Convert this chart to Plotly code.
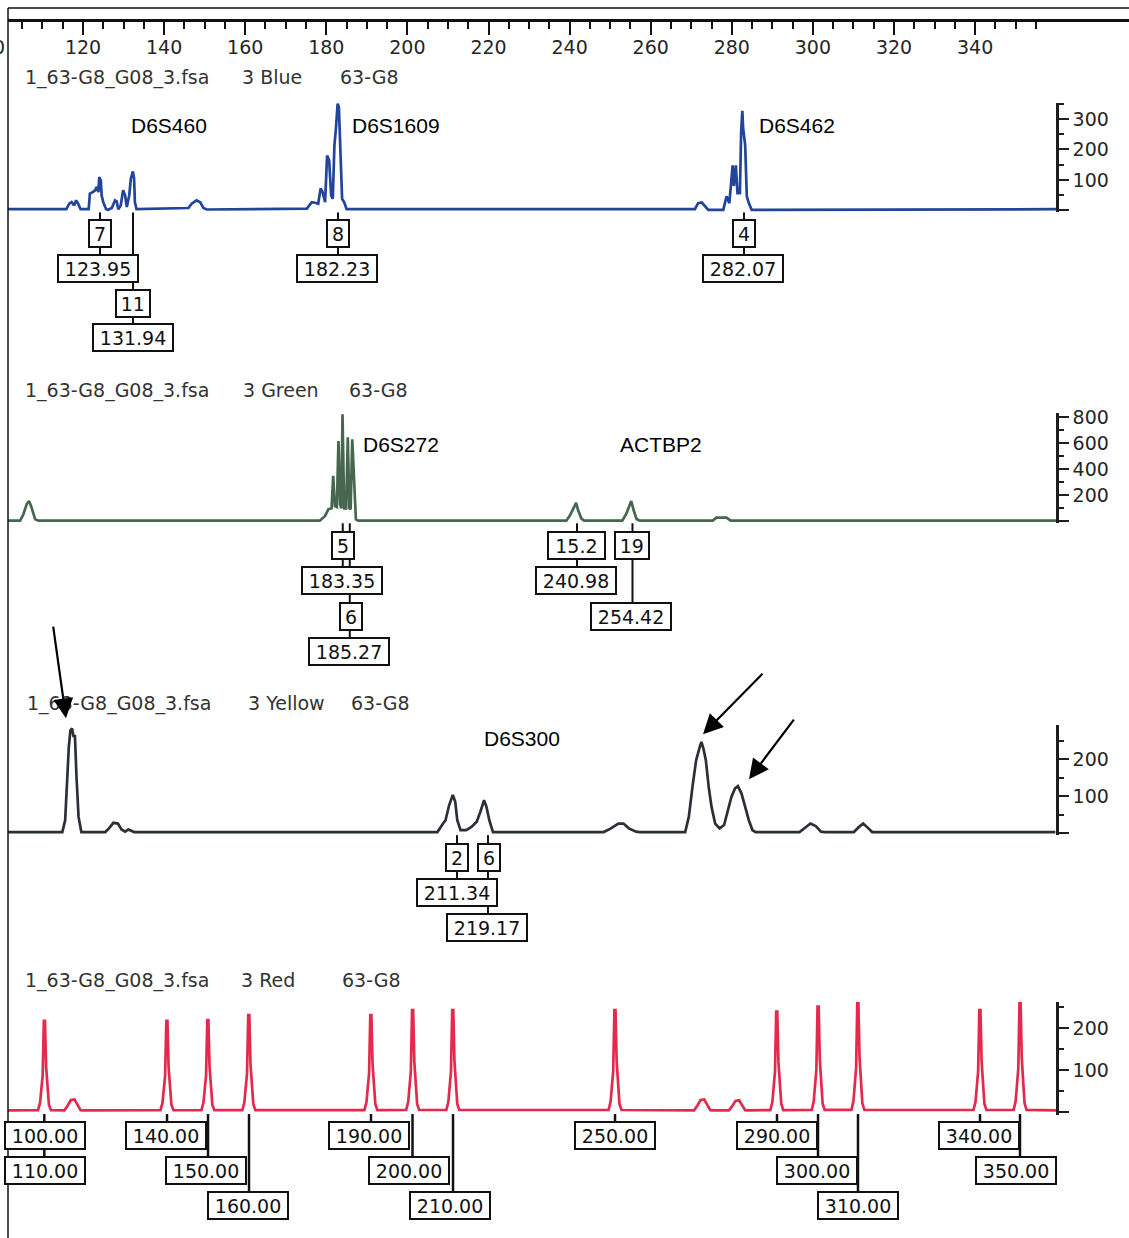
import plotly.graph_objects as go

# ------------------------------------------------------------------ data
# Blue channel trace (size in bp, signal in RFU)
blue_x = [101.5, 115.9, 116.6, 117.2, 117.8, 118.3, 118.8, 119.4,
          121.4, 121.7, 122.4, 123.0, 123.4, 123.8, 124.0, 124.4, 124.6, 125.0, 125.7, 126.2,
          127.1, 127.9, 128.3, 128.7, 129.3, 129.9, 130.4, 130.8, 131.4, 131.8, 132.3, 132.6, 132.8, 133.2,
          146.0, 146.8, 148.0, 148.9, 149.7, 150.5,
          175.2, 176.4, 177.2, 178.0, 178.6, 179.1, 179.7, 180.2, 180.7, 181.2, 181.6, 182.0,
          182.4, 182.8, 183.1, 183.5, 183.9, 184.4, 185.0,
          270.9, 271.7, 272.6, 273.4, 274.2,
          277.9, 278.7, 279.4, 280.2, 280.5, 281.0, 281.4, 282.0, 282.3, 282.6, 282.8, 283.3,
          283.7, 284.2, 284.9, 360.3]
blue_y = [4, 4, 22, 27, 16, 33, 22, 4,
          4, 55, 60, 66, 77, 60, 109, 98, 49, 27, 4, 2,
          8, 33, 30, 4, 16, 66, 49, 11, 49, 104, 128, 104, 27, 4,
          8, 22, 33, 27, 8, 3,
          6, 27, 25, 22, 72, 60, 27, 180, 164, 49, 38, 213,
          273, 350, 339, 164, 38, 27, 4,
          4, 24, 26, 13, 2,
          2, 46, 24, 148, 80, 148, 57, 57, 255, 327, 268, 214,
          46, 24, 2, 4]

# Green channel trace
green_x = [101.5, 104.5, 105.3, 106.1, 106.7, 107.3, 108.2, 109.0,
           178.4, 179.7, 180.5, 181.3, 181.7, 182.1, 182.6, 183.0, 183.4, 183.7, 184.0, 184.4,
           184.9, 185.3, 185.7, 186.0, 186.4, 186.8, 187.3, 187.9,
           239.2, 240.1, 241.1, 241.6, 242.1, 242.9, 243.6,
           253.0, 254.0, 254.7, 255.2, 255.8, 256.5, 257.3,
           275.3, 276.2, 278.7, 279.7, 360.0]
green_y = [5, 5, 54, 131, 156, 108, 15, 5,
           5, 41, 92, 100, 349, 118, 110, 618, 131, 100, 823, 100,
           100, 646, 100, 92, 631, 323, 15, 5,
           5, 46, 110, 141, 85, 21, 5,
           5, 59, 115, 156, 85, 18, 5,
           5, 28, 28, 5, 5]

# Yellow channel trace
yellow_x = [101.5, 114.9, 115.6, 116.1, 116.5, 116.9, 117.3, 117.7, 118.0, 118.4, 118.9, 119.6, 120.2,
            125.5, 126.4, 127.5, 128.6, 129.5, 130.4, 131.2, 132.6, 133.4,
            207.4, 208.8, 209.4, 210.3, 211.2, 211.8, 212.3, 213.1, 214.5, 215.8, 217.1, 218.0,
            218.9, 219.5, 220.2, 221.1, 222.0,
            248.4, 250.2, 252.0, 253.3, 254.6, 256.4, 257.3,
            268.5, 269.4, 270.3, 271.2, 272.1, 272.5, 273.0, 273.6, 274.3, 275.0, 275.9, 277.0,
            278.1, 279.0, 279.9, 280.8, 281.5, 282.4, 283.3, 284.2, 285.1, 285.9,
            296.7, 298.0, 299.4, 300.7, 302.0, 303.0,
            310.1, 311.4, 312.4, 313.7, 314.6, 359.8]
yellow_y = [3, 3, 35, 161, 233, 278, 283, 260, 265, 152, 44, 3, 3,
            3, 13, 28, 26, 10, 4, 10, 3, 3,
            3, 26, 35, 76, 103, 85, 35, 8, 8, 17, 31, 58,
            89, 71, 35, 3, 3,
            3, 13, 26, 26, 13, 4, 3,
            3, 44, 125, 197, 233, 247, 229, 197, 125, 71, 26, 13,
            22, 58, 98, 121, 127, 107, 71, 35, 8, 3,
            3, 13, 26, 19, 4, 3,
            3, 17, 26, 13, 3, 3]

# Red channel (size standard) peaks: apex position and height, plus small bumps
red_peak_x = [110.5, 140.7, 150.8, 160.9, 191.0, 201.3, 211.2, 251.2, 291.1, 301.3, 311.1, 341.2, 351.1]
red_peak_h = [217, 217, 219, 231, 231, 243, 243, 243, 239, 251, 260, 243, 259]
red_bump_x = [117.6, 272.9, 281.5]
red_bump_h = [30, 30, 28]
red_range_x = [101.5, 360.2]
red_base = 4
# peak outline (offset in bp, fraction of apex height)
red_peak_dx = [-1.6, -1.1, -0.75, -0.45, -0.15, 0.12, 0.4, 0.7, 1.1, 1.6]
red_peak_fr = [0.02, 0.1, 0.3, 0.4, 1.0, 1.0, 0.5, 0.3, 0.08, 0.02]
red_bump_dx = [-2.2, -1.4, -0.6, 0.3, 1.0, 1.8, 2.4]
red_bump_fr = [0.05, 0.5, 0.95, 1.0, 0.6, 0.15, 0.05]

# peak call labels: (text, size position in bp, row)
blue_labels = [("7", 124.19, 0), ("123.95", 123.70, 1), ("11", 132.45, 2), ("131.94", 132.33, 3),
               ("8", 182.89, 0), ("182.23", 182.52, 1), ("4", 283.01, 0), ("282.07", 282.64, 1)]
green_labels = [("5", 184.24, 0), ("183.35", 183.87, 1), ("6", 186.21, 2), ("185.27", 185.72, 3),
                ("15.2", 241.82, 0), ("240.98", 241.58, 1), ("19", 255.51, 0), ("254.42", 255.14, 2)]
yellow_labels = [("2", 212.35, 0), ("6", 220.12, 0), ("211.34", 212.23, 1), ("219.17", 219.63, 2)]
red_labels = [("100.00", 110.63, 0), ("110.00", 110.63, 1), ("140.00", 140.59, 0), ("150.00", 150.33, 1),
              ("160.00", 160.69, 2), ("190.00", 190.65, 0), ("200.00", 200.39, 1), ("210.00", 210.50, 2),
              ("250.00", 251.19, 0), ("290.00", 291.14, 0), ("300.00", 301.00, 1), ("310.00", 311.12, 2),
              ("340.00", 340.96, 0), ("350.00", 350.09, 1)]
# connector lines (bp position, deepest row reached)
blue_links = [(124.19, 1), (132.33, 3), (182.89, 1), (283.01, 1)]
green_links = [(184.06, 1), (185.79, 3), (241.82, 1), (255.51, 2)]
yellow_links = [(212.23, 1), (219.87, 2)]
red_links = [(110.46, 1), (140.72, 0), (150.83, 1), (160.94, 2), (191.02, 0), (201.26, 1), (211.25, 2),
             (251.20, 0), (291.15, 0), (301.26, 1), (311.12, 2), (341.21, 0), (351.07, 1)]

# marker names (text, bp position)
blue_markers = [("D6S460", 141.2), ("D6S1609", 197.2), ("D6S462", 296.1)]
green_markers = [("D6S272", 198.4), ("ACTBP2", 262.5)]
yellow_markers = [("D6S300", 228.3)]

top_ticks = list(range(120, 341, 20))
top_minor = [v for v in range(105, 356, 5) if v % 20 != 0]

# ------------------------------------------------------------------ build red trace
pts = [(red_range_x[0], red_base), (red_range_x[1], red_base)]
for x0, h in zip(red_peak_x, red_peak_h):
    for dx, f in zip(red_peak_dx, red_peak_fr):
        pts.append((x0 + dx, max(red_base, f * h)))
for x0, h in zip(red_bump_x, red_bump_h):
    for dx, f in zip(red_bump_dx, red_bump_fr):
        pts.append((x0 + dx, max(red_base, f * h)))
pts.sort()
red_x = [p[0] for p in pts]
red_y = [p[1] for p in pts]

# ------------------------------------------------------------------ layout geometry (pixels)
W, H = 1129, 1238
TOP_OFF = 6.5
H_EFF = 1231.5
X_LEFT_PX = 8.0
PX_PER_BP = 4.055
X_MIN = 120 + (X_LEFT_PX - 83.0) / PX_PER_BP
X_MAX = 120 + (W - 83.0) / PX_PER_BP
YAX_PX = 1057


def py(px):
    return 1 - (px - TOP_OFF) / H_EFF


panels = [
    dict(name="y", x=blue_x, y=blue_y, color="#22449b", base=210, k=0.305, rng=[-6, 352],
         major=[0, 100, 200, 300], minor=[50, 150, 250, 350], rows=[233, 268.5, 303, 337.5],
         labels=blue_labels, links=blue_links, markers=blue_markers, marker_y=125,
         header_y=77, header=[("1_63-G8_G08_3.fsa", 23), ("3 Blue", 240), ("63-G8", 338)], lw=2),
    dict(name="y2", x=green_x, y=green_y, color="#46664f", base=521, k=0.13, rng=[-15, 830],
         major=[0, 200, 400, 600, 800], minor=[100, 300, 500, 700], rows=[545, 580.5, 616, 651],
         labels=green_labels, links=green_links, markers=green_markers, marker_y=444,
         header_y=390, header=[("1_63-G8_G08_3.fsa", 23), ("3 Green", 241), ("63-G8", 347)], lw=2),
    dict(name="y3", x=yellow_x, y=yellow_y, color="#2b3038", base=833, k=0.37, rng=[-6, 292],
         major=[0, 100, 200], minor=[50, 150, 250], rows=[857.5, 892.5, 927.5],
         labels=yellow_labels, links=yellow_links, markers=yellow_markers, marker_y=738,
         header_y=703, header=[("1_63-G8_G08_3.fsa", 25), ("3 Yellow", 246), ("63-G8", 349)], lw=2),
    dict(name="y4", x=red_x, y=red_y, color="#e4294d", base=1112, k=0.42, rng=[-6, 262],
         major=[0, 100, 200], minor=[50, 150, 250], rows=[1135.5, 1170.5, 1205.5],
         labels=red_labels, links=red_links, markers=[], marker_y=0,
         header_y=980, header=[("1_63-G8_G08_3.fsa", 23), ("3 Red", 239), ("63-G8", 340)], lw=2.5),
]

fig = go.Figure()
annotations = []
shapes = []

TXT = "DejaVu Sans"
axis_font = dict(family=TXT, size=19, color="#262626")
layout_axes = {}

for p in panels:
    fig.add_trace(go.Scatter(x=p["x"], y=p["y"], mode="lines", xaxis="x", yaxis=p["name"],
                             line=dict(color=p["color"], width=2.7), hoverinfo="skip"))
    bottom = p["base"] - p["rng"][0] * p["k"]
    top = p["base"] - p["rng"][1] * p["k"]
    key = "yaxis" if p["name"] == "y" else "yaxis" + p["name"][1:]
    layout_axes[key] = dict(
        domain=[py(bottom), py(top)], range=p["rng"], anchor="free", position=YAX_PX / W,
        side="right", showline=True, linecolor="#1e1e1e", linewidth=2.5, showgrid=False,
        zeroline=False, ticks="outside", ticklen=10, tickwidth=2, tickcolor="#1e1e1e",
        tickmode="array", tickvals=p["major"], ticktext=["" if v == 0 else str(v) for v in p["major"]],
        tickfont=axis_font,
        minor=dict(tickmode="array", tickvals=p["minor"], ticks="outside", ticklen=5,
                   tickwidth=2, tickcolor="#1e1e1e"),
        fixedrange=True,
    )
    # header
    for txt, xpx in p["header"]:
        annotations.append(dict(text=txt, xref="paper", yref="paper", x=xpx / W, y=py(p["header_y"]),
                                xanchor="left", yanchor="middle", showarrow=False,
                                font=dict(family=TXT, size=19, color="#333333")))
    # marker names
    for txt, xb in p["markers"]:
        annotations.append(dict(text=txt, xref="x", yref="paper", x=xb, y=py(p["marker_y"]),
                                xanchor="center", yanchor="middle", showarrow=False,
                                font=dict(family="Liberation Sans, Arial", size=21, color="#000000")))
    # connector lines
    for xb, row in p["links"]:
        shapes.append(dict(type="line", xref="x", yref="paper", x0=xb, x1=xb,
                           y0=py(p["base"] + 2), y1=py(p["rows"][row] - 14),
                           line=dict(color="#111111", width=p["lw"])))
    # label boxes
    for txt, xb, row in p["labels"]:
        n = len(txt)
        total = 11.6 * n + 12.5
        annotations.append(dict(text=txt, xref="x", yref="paper", x=xb, y=py(p["rows"][row]),
                                xanchor="center", yanchor="middle", showarrow=False,
                                width=total - 6, height=23, bgcolor="white",
                                bordercolor="#111111", borderwidth=2, borderpad=1,
                                font=dict(family=TXT, size=19, color="#111111")))

# clipped "100" label remnant at left edge of the size axis
annotations.append(dict(text="0", xref="paper", yref="paper", x=7 / W, y=py(46.5), xanchor="right",
                        yanchor="middle", showarrow=False, font=axis_font))

# arrows in yellow panel (tip px, tail offset px)
for tip, off in [((66, 718), (-13, -93)), ((703, 734), (61, -62)), ((749, 779), (46, -61))]:
    annotations.append(dict(text="", xref="paper", yref="paper", x=tip[0] / W, y=py(tip[1]),
                            ax=off[0], ay=off[1], showarrow=True, arrowhead=2, arrowsize=1.8,
                            arrowwidth=2.2, arrowcolor="#000000", standoff=0))

# page frame lines
shapes.append(dict(type="line", xref="paper", yref="paper", x0=X_LEFT_PX / W, x1=1, y0=py(7.5), y1=py(7.5),
                   line=dict(color="#111111", width=1.5)))
shapes.append(dict(type="line", xref="paper", yref="paper", x0=X_LEFT_PX / W, x1=X_LEFT_PX / W,
                   y0=py(7.5), y1=0, line=dict(color="#111111", width=1.5)))

fig.update_layout(
    width=W, height=H, margin=dict(l=0, r=0, t=0, b=0),
    paper_bgcolor="white", plot_bgcolor="white", showlegend=False,
    xaxis=dict(domain=[X_LEFT_PX / W, 1], range=[X_MIN, X_MAX], anchor="free", position=py(19.5),
               side="bottom", showline=True, linecolor="#111111", linewidth=2.5, showgrid=False,
               zeroline=False, ticks="outside", ticklen=13, tickwidth=2, tickcolor="#111111",
               tickmode="array", tickvals=top_ticks, ticktext=[str(v) for v in top_ticks],
               tickfont=axis_font, ticklabelstandoff=-4,
               minor=dict(tickmode="array", tickvals=top_minor, ticks="outside", ticklen=7,
                          tickwidth=2, tickcolor="#111111"),
               fixedrange=True),
    annotations=annotations, shapes=shapes,
    **layout_axes,
)

fig.write_html("out.html")
